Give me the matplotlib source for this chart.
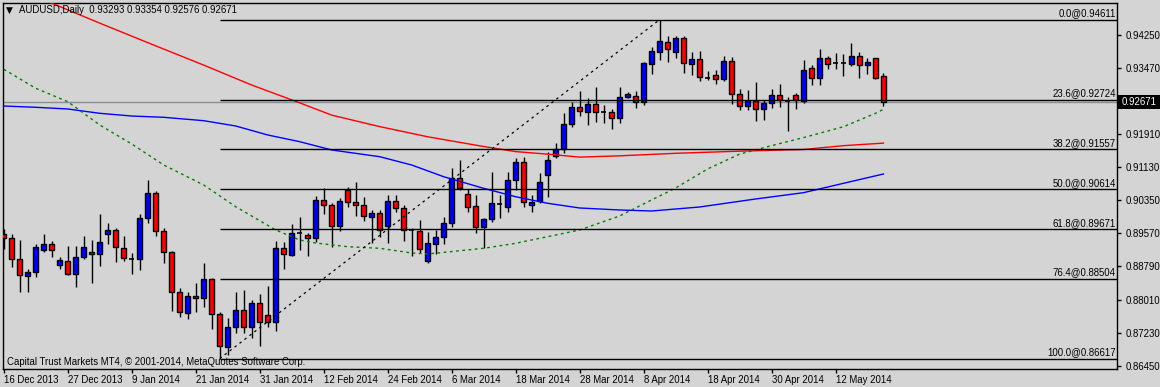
import matplotlib
matplotlib.use('Agg')
import matplotlib.pyplot as plt
from matplotlib.patches import Rectangle
from matplotlib.transforms import blended_transform_factory, offset_copy

# ---------------- data ----------------
opens = [0.89550, 0.89455, 0.88960, 0.88573, 0.88653, 0.89172, 0.89314, 0.88818, 0.88920, 0.88606,
         0.89007, 0.89132, 0.89078, 0.89564, 0.89644, 0.89219, 0.88967, 0.88960, 0.89927, 0.90517,
         0.89627, 0.89125, 0.88182, 0.87686, 0.88094, 0.88040, 0.88495, 0.87663, 0.86899, 0.87356,
         0.87764, 0.87356, 0.87922, 0.87639, 0.87488, 0.89219, 0.89061, 0.89573, 0.89526, 0.89455,
         0.90351, 0.90234, 0.89752, 0.90594, 0.90304, 0.90234, 0.89965, 0.90045, 0.89752, 0.90335,
         0.90163, 0.89644, 0.89627, 0.88927, 0.89321, 0.89479, 0.89809, 0.90870, 0.90493, 0.90217,
         0.89729, 0.89903, 0.90264, 0.90186, 0.90830, 0.91248, 0.90234, 0.90328, 0.90941, 0.91403,
         0.91554, 0.92144, 0.92545, 0.92441, 0.92616, 0.92441, 0.92427, 0.92285, 0.92795, 0.92811,
         0.92663, 0.93559, 0.93856, 0.94078, 0.93856, 0.94172, 0.93559, 0.93677, 0.93243, 0.93300,
         0.93219, 0.93637, 0.92851, 0.92583, 0.92701, 0.92512, 0.92639, 0.92828, 0.92701, 0.92828,
         0.92701, 0.93465, 0.93229, 0.93701, 0.93583, 0.93583, 0.93559, 0.93755, 0.93535, 0.93701,
         0.93293]
highs = [0.89675, 0.89557, 0.89415, 0.88731, 0.89321, 0.89557, 0.89399, 0.89007, 0.89274, 0.89274,
         0.89509, 0.89415, 0.90028, 0.89823, 0.89691, 0.89509, 0.89101, 0.90028, 0.90830, 0.90571,
         0.89691, 0.89156, 0.88276, 0.88189, 0.88408, 0.88866, 0.88526, 0.87724, 0.87568, 0.88182,
         0.88236, 0.88000, 0.88142, 0.88330, 0.89392, 0.89375, 0.89785, 0.89951, 0.89587, 0.90453,
         0.90634, 0.90281, 0.90399, 0.90658, 0.90783, 0.90436, 0.90123, 0.90123, 0.90469, 0.90469,
         0.90241, 0.89691, 0.89887, 0.89611, 0.89651, 0.89965, 0.91106, 0.91302, 0.90611, 0.90469,
         0.89927, 0.91019, 0.90469, 0.91026, 0.91349, 0.91366, 0.90476, 0.90988, 0.91498, 0.91710,
         0.92417, 0.92677, 0.92929, 0.92757, 0.93017, 0.92599, 0.92505, 0.93031, 0.92913, 0.92936,
         0.93620, 0.93974, 0.94611, 0.94234, 0.94226, 0.94226, 0.93856, 0.93873, 0.93401, 0.93425,
         0.93755, 0.93738, 0.92969, 0.92953, 0.93149, 0.92717, 0.92969, 0.93087, 0.92781, 0.92875,
         0.93660, 0.93542, 0.93913, 0.93755, 0.93833, 0.93795, 0.94054, 0.93842, 0.93715, 0.93715,
         0.93354]
lows = [0.89203, 0.88785, 0.88196, 0.88196, 0.88535, 0.89139, 0.89021, 0.88724, 0.88590, 0.88314,
        0.88960, 0.88408, 0.88802, 0.89321, 0.88903, 0.88927, 0.88613, 0.88708, 0.89823, 0.89517,
        0.88866, 0.87748, 0.87606, 0.87545, 0.87724, 0.87842, 0.87309, 0.86617, 0.86703, 0.87215,
        0.87229, 0.87097, 0.86922, 0.87370, 0.87276, 0.88724, 0.89038, 0.89179, 0.89038, 0.89375,
        0.90028, 0.89243, 0.89634, 0.90201, 0.89988, 0.89870, 0.89337, 0.89493, 0.89351, 0.90083,
        0.89399, 0.89038, 0.89101, 0.88880, 0.89085, 0.89321, 0.89715, 0.90594, 0.90083, 0.89587,
        0.89219, 0.89847, 0.89934, 0.90068, 0.90594, 0.90186, 0.90083, 0.90281, 0.90436, 0.91356,
        0.91474, 0.92087, 0.92340, 0.92127, 0.92205, 0.92182, 0.92026, 0.92182, 0.92757, 0.92521,
        0.92599, 0.93323, 0.93660, 0.93606, 0.93701, 0.93347, 0.93307, 0.93172, 0.93189, 0.93094,
        0.93172, 0.92616, 0.92481, 0.92481, 0.92229, 0.92245, 0.92521, 0.92559, 0.91993, 0.92498,
        0.92653, 0.93071, 0.93071, 0.93441, 0.93448, 0.93290, 0.93519, 0.93243, 0.93323, 0.93212,
        0.92576]
closes = [0.89455, 0.88960, 0.88583, 0.88653, 0.89243, 0.89314, 0.89172, 0.88943, 0.88620, 0.89007,
          0.89243, 0.89085, 0.89368, 0.89651, 0.89243, 0.88984, 0.88967, 0.89927, 0.90517, 0.89634,
          0.89125, 0.88182, 0.87710, 0.88094, 0.88040, 0.88495, 0.87663, 0.86922, 0.87370, 0.87764,
          0.87356, 0.87922, 0.87488, 0.87488, 0.89219, 0.89078, 0.89573, 0.89573, 0.89455, 0.90351,
          0.90234, 0.89752, 0.90328, 0.90304, 0.90234, 0.89974, 0.90045, 0.89644, 0.90335, 0.90163,
          0.89644, 0.89644, 0.89196, 0.89337, 0.89493, 0.89809, 0.90870, 0.90649, 0.90201, 0.89729,
          0.89903, 0.90281, 0.90264, 0.90830, 0.91248, 0.90304, 0.90304, 0.90776, 0.91295, 0.91554,
          0.92144, 0.92545, 0.92465, 0.92616, 0.92434, 0.92441, 0.92285, 0.92795, 0.92851, 0.92663,
          0.93597, 0.93866, 0.94109, 0.93913, 0.94172, 0.93583, 0.93677, 0.93252, 0.93243, 0.93219,
          0.93637, 0.92851, 0.92583, 0.92693, 0.92512, 0.92639, 0.92828, 0.92717, 0.92701, 0.92717,
          0.93418, 0.93229, 0.93701, 0.93559, 0.93583, 0.93583, 0.93755, 0.93542, 0.93613, 0.93243,
          0.92671]

# moving averages: (bar index, price)
ma_red_x = [0, 6, 12, 18, 25, 31, 37, 41, 47, 53, 60, 64, 68, 72, 77, 84, 92, 100, 105, 110]
ma_red_y = [0.9540, 0.9500, 0.9453, 0.9407, 0.9354, 0.9307, 0.9265, 0.9236, 0.9209, 0.9185,
            0.9162, 0.9150, 0.9144, 0.9137, 0.9140, 0.9146, 0.9151, 0.9155, 0.9164, 0.9170]
ma_blue_x = [0, 4, 8, 12, 16, 20, 25, 29, 33, 37, 41, 47, 51, 55, 60, 64, 68, 72, 77, 81, 87, 94, 100, 105, 110]
ma_blue_y = [0.92575, 0.92545, 0.92505, 0.92403, 0.92339, 0.92309, 0.92229, 0.92104, 0.91892, 0.91734,
             0.91538, 0.91380, 0.91184, 0.90908, 0.90634, 0.90436, 0.90281, 0.90170, 0.90123, 0.90099,
             0.90193, 0.90382, 0.90531, 0.90752, 0.90972]
ma_green_x = [0, 4, 8, 12, 16, 20, 25, 29, 34, 37, 39, 43, 47, 51, 53, 60, 64, 68, 72, 77, 81, 84, 88, 92, 96, 100, 105, 109, 110]
ma_green_y = [0.93441, 0.92993, 0.92677, 0.92127, 0.91679, 0.91184, 0.90712, 0.90200, 0.89651, 0.89415,
              0.89344, 0.89257, 0.89219, 0.89109, 0.89085, 0.89219, 0.89337, 0.89493, 0.89651, 0.89981,
              0.90359, 0.90640, 0.91090, 0.91440, 0.91640, 0.91830, 0.92087, 0.92403, 0.92497]

fib_names = ["0.0", "23.6", "38.2", "50.0", "61.8", "76.4", "100.0"]
fib_levels = [0.94611, 0.92724, 0.91557, 0.90614, 0.89671, 0.88504, 0.86617]
fib_low_bar, fib_high_bar = 27, 82

date_ticks = [0, 8, 16, 24, 32, 40, 48, 56, 64, 72, 80, 88, 96, 104]
date_labels = ["16 Dec 2013", "27 Dec 2013", "9 Jan 2014", "21 Jan 2014", "31 Jan 2014",
               "12 Feb 2014", "24 Feb 2014", "6 Mar 2014", "18 Mar 2014", "28 Mar 2014",
               "8 Apr 2014", "18 Apr 2014", "30 Apr 2014", "12 May 2014"]
price_ticks = [0.94250, 0.93470, 0.91910, 0.91130, 0.90350, 0.89570, 0.88790, 0.88010, 0.87230, 0.86450]
last_price = 0.92671
header = "AUDUSD,Daily  0.93293 0.93354 0.92576 0.92671"
footer = "Capital Trust Markets MT4, \u00a9 2001-2014, MetaQuotes Software Corp."

# ---------------- style ----------------
BG = '#d4d4d4'
FONT = 'Liberation Sans'
FS = 6.9
W, H = 1160, 387

fig = plt.figure(figsize=(W / 100, H / 100), dpi=100, facecolor=BG)
ax = fig.add_axes([3 / W, 18 / H, 1114 / W, 366 / H], facecolor=BG)
YMIN, YMAX = 0.86372, 0.95005
ax.set_xlim(-0.1, 139.2)
ax.set_ylim(YMIN, YMAX)

for s in ax.spines.values():
    s.set_color('black')
    s.set_linewidth(1.0)

# candles
bw = 0.62
for i, (o, h, l, c) in enumerate(zip(opens, highs, lows, closes)):
    ax.vlines(i, l, h, color='black', lw=1.0, zorder=3)
    if abs(c - o) < 1e-5:
        ax.hlines(o, i - bw / 2, i + bw / 2, color='black', lw=1.2, zorder=4)
    else:
        col = '#0000ff' if c > o else '#ff0000'
        ax.add_patch(Rectangle((i - bw / 2, min(o, c)), bw, abs(c - o), facecolor=col,
                               edgecolor='black', lw=1.0, zorder=4))

# current price line
ax.axhline(last_price, color='#8a8e96', lw=1.0, zorder=2)

# moving averages
ax.plot(ma_red_x, ma_red_y, color='#ff0000', lw=1.0, zorder=5)
ax.plot(ma_blue_x, ma_blue_y, color='#0000ff', lw=1.0, zorder=5)
ax.plot(ma_green_x, ma_green_y, color='#008000', lw=1.0, ls=(0, (2, 2.5)), zorder=5)

# fibonacci
xr = 139.2
for name, lev in zip(fib_names, fib_levels):
    ax.hlines(lev, fib_low_bar, xr, color='black', lw=1.0, zorder=6)
    t = offset_copy(ax.transData, fig=fig, x=0, y=1.5, units='dots')
    ax.text(139.05, lev, f"{name}@{lev:.5f}", ha='right', va='bottom', fontsize=FS,
            family=FONT, color='black', transform=t, zorder=7)
ax.plot([fib_low_bar, fib_high_bar], [fib_levels[-1], fib_levels[0]], color='black', lw=0.9,
        ls=(0, (2, 3)), zorder=6)

# axes ticks
ax.yaxis.tick_right()
ax.set_yticks(price_ticks)
ax.set_yticklabels([f"{p:.5f}" for p in price_ticks], family=FONT, fontsize=FS)
ax.set_xticks(date_ticks)
ax.set_xticklabels(date_labels, family=FONT, fontsize=FS, ha='left')
ax.tick_params(axis='y', length=3, width=1, pad=3, colors='black', direction='out')
ax.tick_params(axis='x', length=3, width=1, pad=1.5, colors='black', direction='out')

# price box
bt = blended_transform_factory(fig.transFigure, ax.transData)
hh = 7 / 366 * (YMAX - YMIN)
fig.patches.append(Rectangle((1117 / W, last_price - hh), 43 / W, 2 * hh, transform=bt,
                             facecolor='black', edgecolor='none', zorder=10))
fig.text(1122 / W, last_price, f"{last_price:.5f}", transform=bt, color='white', fontsize=FS,
         family=FONT, va='center', ha='left', zorder=11)

# header and footer
fig.text(6 / W, 1 - 10 / H, "\u25bc", fontsize=6.5, family='DejaVu Sans', va='center', ha='left', color='black')
fig.text(19 / W, 1 - 10 / H, header, fontsize=FS, family=FONT, va='center', ha='left', color='black')
fig.text(7 / W, 1 - 362 / H, footer, fontsize=FS, family=FONT, va='center', ha='left', color='black')

fig.savefig('out.png', dpi=100, facecolor=BG)
